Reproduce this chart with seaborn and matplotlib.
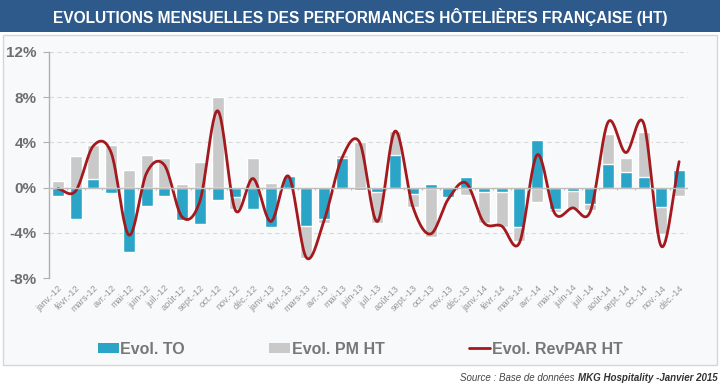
'''plot.py
Evolutions mensuelles des performances hotelieres francaises (HT)
Bars: TO and PM evolution (stacked when same sign), line: RevPAR evolution.
'''

import numpy as np
import matplotlib
matplotlib.use('Agg')
import matplotlib.pyplot as plt
from matplotlib.patches import Patch, Rectangle
from matplotlib.lines import Line2D
from matplotlib import font_manager
import seaborn as sns

# Data (in %)
years = ['12', '13', '14']
month_names = ['janv.', 'févr.', 'mars', 'avr.', 'mai', 'juin',
               'juil.', 'août', 'sept.', 'oct.', 'nov.', 'déc.']
months = [f"{m}-{y}" for y in years for m in month_names]

evol_to = [-0.7, -2.75, 0.8, -0.45, -5.7, -1.6, -0.75, -2.85, -3.25, -1.1, -0.85, -1.9,
           -3.5, 1.0, -3.4, -2.8, 2.6, -0.25, -0.4, 2.9, -0.6, 0.3, -0.8, 0.95,
           -0.4, -0.4, -3.5, 4.2, -1.85, -0.3, -1.45, 2.1, 1.4, 0.9, -1.7, 1.55]

evol_pm = [0.55, 2.8, 3.0, 3.75, 1.6, 2.85, 2.65, 0.3, 2.25, 8.0, -1.0, 2.65,
           0.4, 0.0, -2.8, -0.3, 0.3, 4.05, -2.7, 2.15, -1.1, -4.4, -0.1, -0.65,
           -2.7, -3.05, -1.25, -1.3, -0.35, -1.55, -0.5, 2.6, 1.2, 4.0, -2.4, -0.7]

evol_revpar = [-0.1, -0.3, 3.7, 3.1, -4.2, 1.3, 2.0, -2.6, -1.2, 6.8, -2.0, 0.8,
               -3.0, 1.0, -6.2, -2.9, 2.6, 4.0, -3.0, 5.0, -1.7, -4.1, -1.0, 0.4,
               -3.1, -3.4, -4.9, 2.9, -2.3, -1.8, -2.1, 5.8, 3.1, 5.7, -5.2, 2.3]

# Colours
BLUE = '#2aa5c8'
GREY = '#c9c9c9'
RED = '#a3191e'
BANNER = '#2d5a8b'
TXT = '#6e6e6e'


def pick(*names):
    avail = {f.name for f in font_manager.fontManager.ttflist}
    for n in names:
        if n in avail:
            return n
    return 'DejaVu Sans'


def catmull_rom(y, n=24):
    # smooth curve through the points (like the Excel "smoothed line")
    y = np.asarray(y, dtype=float)
    p = np.concatenate([[2 * y[0] - y[1]], y, [2 * y[-1] - y[-2]]])
    xs, ys = [], []
    for i in range(len(y) - 1):
        p0, p1, p2, p3 = p[i], p[i + 1], p[i + 2], p[i + 3]
        t = np.linspace(0, 1, n, endpoint=False)
        m1 = (p2 - p0) / 2
        m2 = (p3 - p1) / 2
        h00 = 2 * t**3 - 3 * t**2 + 1
        h10 = t**3 - 2 * t**2 + t
        h01 = -2 * t**3 + 3 * t**2
        h11 = t**3 - t**2
        xs.append(i + t)
        ys.append(h00 * p1 + h10 * m1 + h01 * p2 + h11 * m2)
    xs.append([len(y) - 1])
    ys.append([y[-1]])
    return np.concatenate(xs), np.concatenate(ys)


sns.set_theme(style='white')
SANS = pick('Liberation Sans', 'Arial')
plt.rcParams['font.family'] = [SANS, 'DejaVu Sans']

W, H = 720, 387
fig = plt.figure(figsize=(W / 100, H / 100), dpi=100)
fig.patch.set_facecolor('white')

# banner + panel (behind the axes)
fig.patches.append(Rectangle((0, 1 - 32 / H), 1, 32 / H, transform=fig.transFigure,
                             facecolor=BANNER, edgecolor='none', zorder=-2))
fig.patches.append(Rectangle((3 / W, 1 - 365 / H), 714 / W, 330 / H, transform=fig.transFigure,
                             facecolor='#f8f9fa', edgecolor='#d6d6d6', lw=1, zorder=-2))
fig.text(0.5, 1 - 17 / H, 'EVOLUTIONS MENSUELLES DES PERFORMANCES HÔTELIÈRES FRANÇAISE (HT)',
         ha='center', va='center', color='white', fontsize=11.2, fontweight='bold')

ax = fig.add_axes([49 / W, 1 - 278 / H, 639 / W, 226 / H])
ax.set_facecolor('none')

# grey bar goes from 0 to TO+PM when both have same sign (stacked), else 0 to PM
grey_top = [p + t if p * t > 0 else p for t, p in zip(evol_to, evol_pm)]

sns.barplot(x=months, y=grey_top, color=GREY, saturation=1, width=0.68, ax=ax, zorder=2)
sns.barplot(x=months, y=evol_to, color=BLUE, saturation=1, width=0.68, ax=ax, zorder=3)

sx, sy = catmull_rom(evol_revpar)
ax.plot(sx, sy, color=RED, lw=2, zorder=4, solid_capstyle='round')

ax.set_xlim(-0.5, len(months) - 0.5)
ax.set_ylim(-8, 12)
ax.set_yticks(range(-8, 13, 4))
ax.set_yticklabels([f"{v}%" for v in range(-8, 13, 4)], fontsize=11,
                   fontweight='bold', color=TXT)
for v in range(-8, 13, 4):
    if v != 0:
        ax.axhline(v, color='#d9d9d9', lw=0.8, ls=(0, (4, 3)), zorder=1)
ax.axhline(0, color='#bdbdbd', lw=1, zorder=5)
ax.vlines(np.arange(len(months) + 1) - 0.5, -0.2, 0, color='#bdbdbd', lw=0.8, zorder=5)

ax.set_xticks(range(len(months)))
ax.set_xticklabels(months, rotation=45, ha='right', rotation_mode='anchor',
                   fontsize=6.6, color='#969696')
ax.tick_params(axis='x', length=0, pad=4)
ax.tick_params(axis='y', length=4, width=0.8, color='#b0b0b0', pad=5, left=True)
for s in ['top', 'right', 'bottom']:
    ax.spines[s].set_visible(False)
ax.spines['left'].set_color('#b0b0b0')
ax.spines['left'].set_linewidth(1)
ax.set_xlabel('')
ax.set_ylabel('')

# legend
handles = [Patch(facecolor=BLUE, edgecolor='none'),
           Patch(facecolor=GREY, edgecolor='none'),
           Line2D([0], [0], color=RED, lw=2)]
fig.legend(handles, ['Evol. TO', 'Evol. PM HT', 'Evol. RevPAR HT'], loc='center',
           bbox_to_anchor=(0.5, 1 - 349 / H), ncol=3, frameon=False,
           handlelength=1.3, handleheight=0.55, handletextpad=0.1, columnspacing=5.3,
           prop=dict(family=SANS, weight='bold', size=11.5), labelcolor='#777777')

# source line, bold part right-aligned, plain part placed before it
src_b = fig.text(1 - 2 / W, 1 - 378 / H, 'MKG Hospitality -Janvier 2015', ha='right', va='center',
                 fontsize=7, style='italic', fontweight='bold', color='#333333')
fig.canvas.draw()
bb = src_b.get_window_extent()
fig.text(bb.x0 / W - 1 / W, 1 - 378 / H, 'Source : Base de données ', ha='right', va='center',
         fontsize=7, style='italic', color='#444444')

fig.savefig('out.png', dpi=100, facecolor=fig.get_facecolor())
